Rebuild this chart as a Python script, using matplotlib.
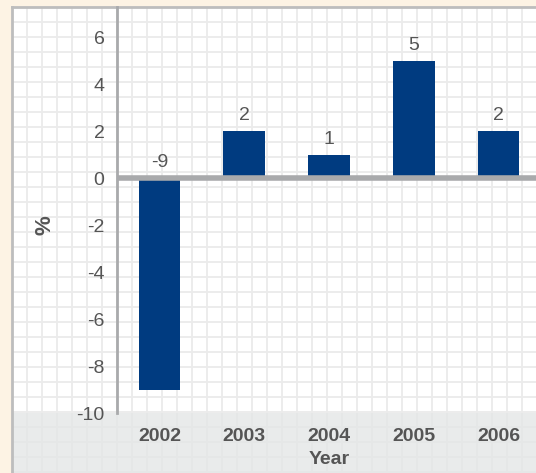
import matplotlib.pyplot as plt
import numpy as np

# annual change, %
years = ['2002', '2003', '2004', '2005', '2006']
change = [-9, 2, 1, 5, 2]

W, H = 536, 473
fig = plt.figure(figsize=(W / 100, H / 100), dpi=100)
fig.patch.set_facecolor('#fdf3e4')
plt.rcParams['font.family'] = ['Liberation Sans', 'DejaVu Sans']
plt.rcParams['axes.unicode_minus'] = False

# panel background with a fixed squared-paper grid
bg = fig.add_axes([12 / W, 0, 1 - 12 / W, (H - 7) / H])
pw, ph = W - 12, H - 7
bg.set_xlim(0, pw)
bg.set_ylim(ph, 0)
bg.set_facecolor('white')
for x in np.arange(15, pw, 15):
    bg.axvline(x, color='#ebebeb', lw=1.3, zorder=1)
for y in np.arange(15, ph, 15):
    bg.axhline(y, color='#ebebeb', lw=1.3, zorder=1)
bg.add_patch(plt.Rectangle((0, 413 - 7), pw, ph, color='#e4e6e6', alpha=0.8, zorder=2, lw=0))
bg.set_xticks([])
bg.set_yticks([])
for s in ['right', 'bottom']:
    bg.spines[s].set_visible(False)
for s in ['left', 'top']:
    bg.spines[s].set_color('#bdbdbd')
    bg.spines[s].set_linewidth(2)

# plot area runs a little past the right edge
ax = fig.add_axes([117 / W, (H - 413) / H, (541 - 117) / W, (413 - 7) / H])
ax.patch.set_alpha(0)
pos = np.arange(len(years))
ax.bar(pos, change, width=0.49, color='#003b80', zorder=3)
ax.axhline(0, color='#a9aaac', lw=4, zorder=4)
for p, v in zip(pos, change):
    ax.text(p, max(v, 0) + 0.3, str(v), ha='center', va='bottom',
            fontsize=14, color='#555555')

ax.set_xlim(-0.5, 4.5)
ax.set_ylim(-10, 7.28)
ax.set_yticks(range(-10, 7, 2))
ax.set_xticks(pos)
ax.set_xticklabels(years, fontweight='bold')
ax.tick_params(axis='y', length=0, pad=9, labelsize=14, labelcolor='#555555')
ax.tick_params(axis='x', length=0, pad=11, labelsize=14, labelcolor='#555555')
ax.set_xlabel('Year', fontsize=14, fontweight='bold', color='#555555', labelpad=4)
for s in ['right', 'top', 'bottom']:
    ax.spines[s].set_visible(False)
ax.spines['left'].set_color('#a9aaac')
ax.spines['left'].set_linewidth(2)

fig.text(45 / W, 1 - 225 / H, '%', rotation=90, ha='center', va='center',
         fontsize=16, fontweight='bold', color='#555555')

fig.savefig('out.png', dpi=100, facecolor=fig.get_facecolor())
